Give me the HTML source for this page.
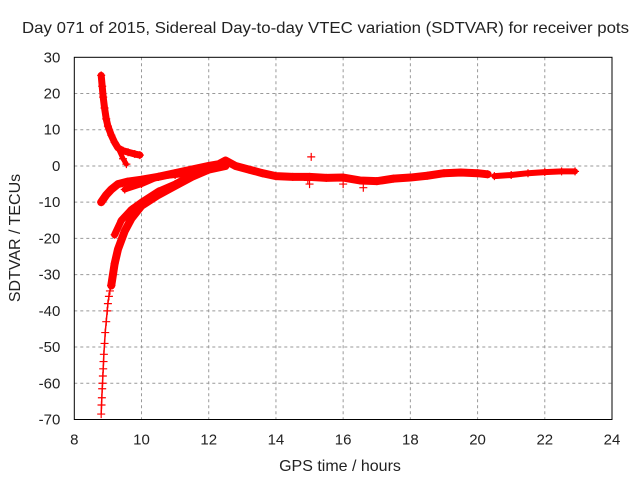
<!DOCTYPE html>
<html><head><meta charset="utf-8"><style>
body{margin:0;background:#fff}
svg{display:block;font-family:"Liberation Sans",sans-serif}
</style></head><body>
<svg id="c" width="640" height="480"></svg>
<script>
const xTicks=[8,10,12,14,16,18,20,22,24];
const yTicks=[30,20,10,0,-10,-20,-30,-40,-50,-60,-70];
const trackAx=[8.8,8.83,8.86,8.9,8.95,9.0,9.1,9.2,9.3,9.45,9.6,9.8,9.95];
const trackAy=[25,22,19,16,13,11,8.5,6.5,5,4.2,3.8,3.3,3];
const trackA2x=[9.3,9.45,9.55];
const trackA2y=[5,2,0.5];
const trackBx=[8.8,8.95,9.1,9.3,9.6,10,10.5,11,11.5,12,12.3,12.5,12.8,13.2,13.6,14,14.5,15,15.5,16,16.5,17,17.5,18,18.5,19,19.5,20,20.3];
const trackBy=[-10,-8,-6.5,-5,-4.3,-3.8,-3,-2,-1,0,0.5,1.5,0,-1,-2,-2.8,-3,-3,-3.3,-3.2,-4,-4.2,-3.5,-3.2,-2.7,-2,-1.8,-2,-2.3];
const trackB2x=[20.5,21,21.5,22,22.5,22.9];
const trackB2y=[-2.8,-2.5,-2,-1.7,-1.5,-1.5];
const trackCx=[9.1,9.2,9.3,9.5,9.7,10,10.5,11,11.5,12,12.5];
const trackCy=[-33,-27,-23,-18,-14.5,-11,-8,-5.5,-3,-1,0];
const trackDx=[9.2,9.4,9.7,10,10.5,11,11.3];
const trackDy=[-19,-15,-12,-10,-7,-5,-3.5];
const trackEx=[9.5,10,10.5,11,11.5];
const trackEy=[-6.5,-5,-3,-2.5,-2];
const sparseX=[8.8,8.81,8.82,8.83,8.84,8.85,8.86,8.87,8.88,8.9,8.92,8.95,8.98,9.0,9.03,9.06,9.1];
const sparseY=[-68.5,-66,-64,-61.5,-60,-58,-56,-54,-52,-49,-46,-43,-40,-38,-36,-34.5,-33];
const isoX=[15.05,15.0,14.95,16.0,16.6];
const isoY=[2.5,-5,-4,-5,-6];

const L=74.3,R=612,T=57.3,B=419.5;
const sx=v=>L+(v-8)/16*(R-L);
const sy=v=>T+(30-v)/100*(B-T);
const svg=document.getElementById('c');
const NS='http://www.w3.org/2000/svg';
function mk(t,a){const e=document.createElementNS(NS,t);for(const k in a)e.setAttribute(k,a[k]);svg.appendChild(e);return e;}

xTicks.forEach(v=>{
  if(v>8&&v<24){const g=mk('line',{x1:sx(v),x2:sx(v),y1:T,y2:B,stroke:'#999','stroke-dasharray':'3,3'});
  
  }
  const t=mk('text',{x:sx(v),y:B+25,'text-anchor':'middle','font-size':15,fill:'#222'});t.textContent=v;
  
  
});
yTicks.forEach(v=>{
  if(v<30&&v>-70){const g=mk('line',{x1:L,x2:R,y1:sy(v),y2:sy(v),stroke:'#999','stroke-dasharray':'3,3'});
  
  }
  const t=mk('text',{x:L-14,y:sy(v)+5,'text-anchor':'end','font-size':15,fill:'#222'});t.textContent=v;
  
  
});
const fr=mk('rect',{x:L,y:T,width:R-L,height:B-T,fill:'none',stroke:'#000','stroke-width':1});



function band(xs,ys,w,name){
  const p=mk('polyline',{points:xs.map((x,i)=>sx(x)+','+sy(ys[i])).join(' '),fill:'none',stroke:'#f00','stroke-width':w,'stroke-linejoin':'round','stroke-linecap':'round'});
  
  
  xs.forEach((x,i)=>plus(x,ys[i],name+'-point'));
}
function plus(x,y,name){
  const px=sx(x),py=sy(y);
  const p=mk('path',{d:`M${px-4},${py}H${px+4}M${px},${py-4}V${py+4}`,stroke:'#f00','stroke-width':1.2});
  
  
}
band(trackAx,trackAy,7,'track-a');
band(trackA2x,trackA2y,5,'track-a-branch');
band(trackBx,trackBy,8,'track-b');
band(trackB2x,trackB2y,6,'track-b-end');
band(trackCx,trackCy,8,'track-c');
band(trackDx,trackDy,7,'track-d');
band(trackEx,trackEy,6,'track-e');
const sp=mk('polyline',{points:sparseX.map((x,i)=>sx(x)+','+sy(sparseY[i])).join(' '),fill:'none',stroke:'#f00','stroke-width':1.5});


sparseX.forEach((x,i)=>plus(x,sparseY[i],'track-c-sparse-point'));
isoX.forEach((x,i)=>plus(x,isoY[i],'isolated-point'));

let t=mk('text',{x:22,y:33,'font-size':16,fill:'#222',textLength:607,lengthAdjust:'spacingAndGlyphs'});
t.textContent='Day 071 of 2015, Sidereal Day-to-day VTEC variation (SDTVAR) for receiver pots';


t=mk('text',{x:340,y:471,'text-anchor':'middle','font-size':16,fill:'#222'});
t.textContent='GPS time / hours';


t=mk('text',{x:0,y:0,'text-anchor':'middle','font-size':16,fill:'#222',transform:'translate(20,238) rotate(-90)'});
t.textContent='SDTVAR / TECUs';


</script>
</body></html>
